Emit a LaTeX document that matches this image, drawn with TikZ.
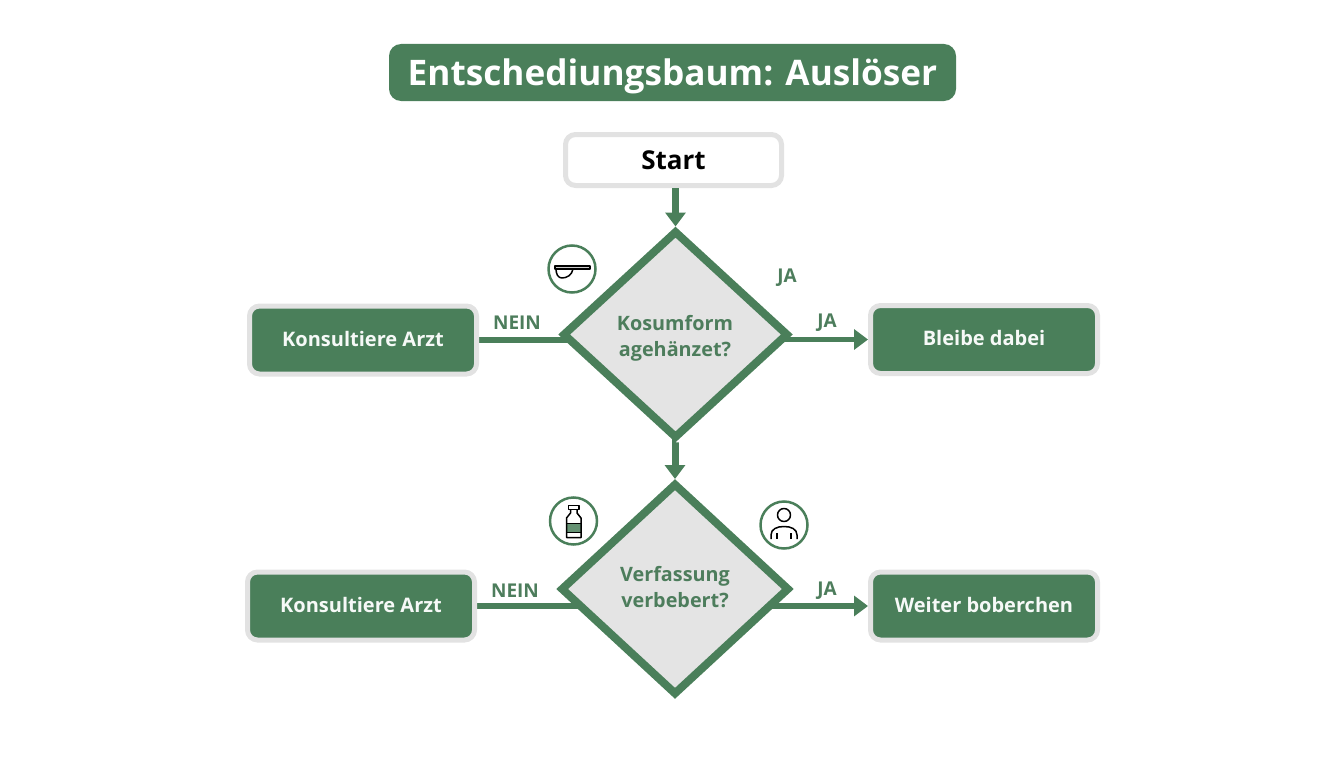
\documentclass[tikz,border=0pt]{standalone}
\usepackage{fontspec}
\setmainfont{Open Sans}
\usetikzlibrary{shapes.geometric,arrows.meta,backgrounds}
\definecolor{gr}{HTML}{4A7F5A}
\definecolor{grt}{HTML}{4D7D5C}
\definecolor{lg}{HTML}{E2E2E2}
\definecolor{dfill}{HTML}{E4E4E4}
\tikzset{
  titlebox/.style={fill=gr,rounded corners=12pt,minimum width=567pt,minimum height=57pt,inner sep=0pt,text=white,text depth=0pt,font=\fontsize{35.2}{40}\selectfont\bfseries},
  startbox/.style={fill=white,draw=lg,line width=5pt,rounded corners=10pt,minimum width=216pt,minimum height=51pt,inner sep=0pt,font=\fontsize{26}{28}\selectfont\bfseries},
  actbox/.style={fill=gr,draw=lg,line width=5pt,rounded corners=10pt,minimum width=227pt,minimum height=68pt,inner sep=0pt,text=white!95!gr,text depth=3pt,font=\fontsize{20}{24}\selectfont\bfseries},
  decide/.style={diamond,fill=dfill,draw=gr,line width=8pt,inner sep=0pt},
  decidetext/.style={align=center,text=grt,inner sep=0pt,font=\fontsize{19.8}{26}\selectfont\bfseries},
  lab/.style={text=grt,inner sep=0pt,font=\fontsize{19}{22}\selectfont\bfseries},
  iconring/.style={circle,draw=gr,line width=2.5pt,fill=white,minimum size=47pt,inner sep=0pt},
  link/.style={draw=gr,line width=5.5pt},
  linkarrow/.style={link,-{Triangle[length=14pt,width=20pt]}},
  ink/.style={draw=black,line width=1.5pt,line join=round}
}
\begin{document}
\begin{tikzpicture}[x=1pt,y=-1pt]
\useasboundingbox (0,0) rectangle (1344,768);
\node[titlebox] (title) at (672.5,72.5) {Entschediungsbaum: Auslöser};
\node[startbox] (start) at (673.5,160) {Start};
\node[decide,minimum width=226pt,minimum height=208pt] (d1) at (675.5,334.5) {};
\node[decide,minimum width=229pt,minimum height=212pt] (d2) at (675,589) {};
\node[decidetext] (t1) at (675,338) {Kosumform\\agehänzet?};
\node[decidetext] (t2) at (675,587.5) {Verfassung\\verbebert?};
\node[actbox] (kl1) at (363,340) {Konsultiere Arzt};
\node[actbox] (kr1) at (984,339.5) {Bleibe dabei};
\node[actbox] (kl2) at (361,606) {Konsultiere Arzt};
\node[actbox,minimum height=68pt] (kr2) at (984,606) {Weiter boberchen};
\begin{scope}[on background layer]
\draw[link] (kl1.east) -- (kl1.east -| d1.center);
\draw[linkarrow] (kr1.west -| d1.center) -- (kr1.west);
\draw[link] (kl2.east) -- (kl2.east -| d2.center);
\draw[linkarrow] (kr2.west -| d2.center) -- (kr2.west);
\end{scope}
\draw[linkarrow,line width=7pt] (start.south -| d1.north) -- (d1.north);
\draw[linkarrow,line width=7pt] (d1.south) -- (d1.south -| d2.north) -- (d2.north);
\node[lab] (l1) at (787,278) {JA};
\node[lab] (l2) at (517,323) {NEIN};
\node[lab] (l3) at (827,323) {JA};
\node[lab] (l4) at (515,591) {NEIN};
\node[lab] (l5) at (827,591) {JA};
% spoon icon
\node[iconring] (i1) at (572,269) {};
\draw[ink,fill=white] (573,269) .. controls (572,275) and (567,278) .. (562,278) .. controls (558,278) and (556,274) .. (556,269) -- cycle;
\draw[ink,fill=white!80!black] (555,266) -- (590,266) -- (590,269) -- (555,269) -- cycle;
% bottle icon
\node[iconring] (i2) at (573.5,521) {};
\fill[gr!85!white] (567,523) rectangle (581,532);
\draw[ink] (568.5,505.5) rectangle (579,509.5);
\draw[ink,line join=round] (570.5,509.5) -- (570.5,513) -- (566.5,518) -- (566.5,537.5) -- (581,537.5) -- (581,518) -- (577,513) -- (577,509.5);
\draw[ink,line width=1pt] (566.5,523) -- (581,523) (566.5,532) -- (581,532);
% person icon
\node[iconring] (i3) at (784,525) {};
\draw[ink] (784,515) circle[radius=6.5];
\draw[ink] (771,539) -- (771,535) .. controls (771,529) and (777,526.5) .. (784,526.5) .. controls (791,526.5) and (797,529) .. (797,535) -- (797,539);
\draw[ink] (777,533) -- (777,539) (791,533) -- (791,539);
\end{tikzpicture}
\end{document}
